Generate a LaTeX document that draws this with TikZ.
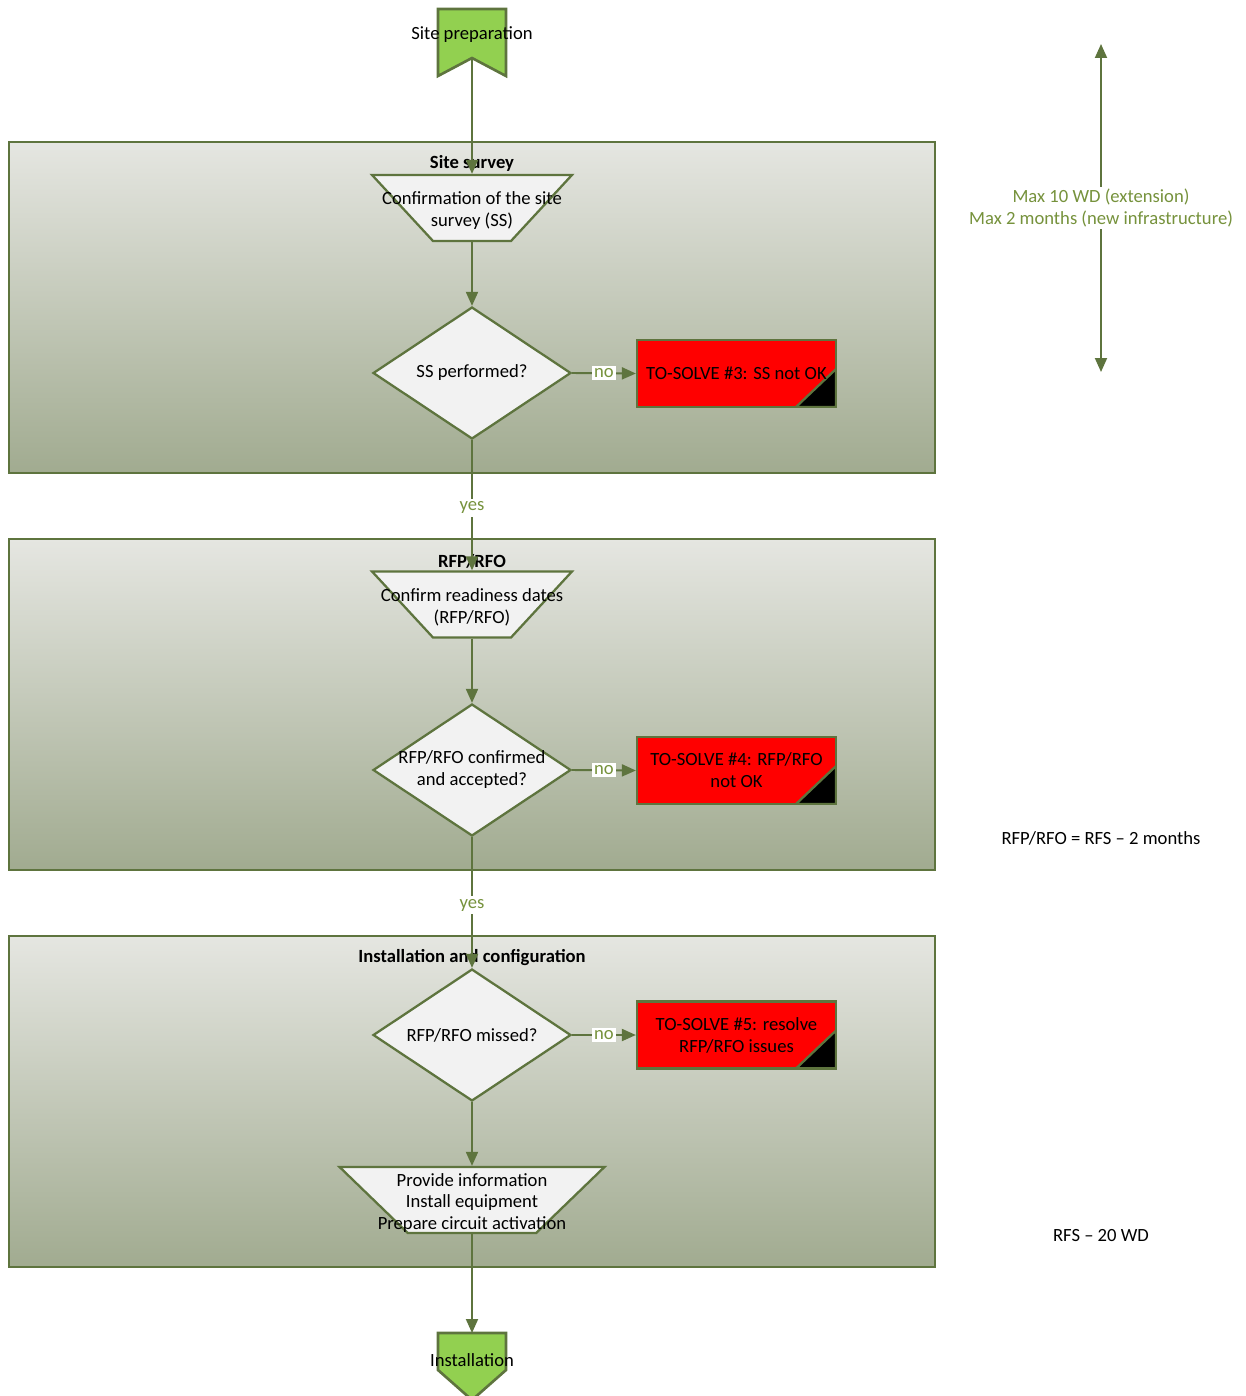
\documentclass[tikz,border=0pt]{standalone}
\usepackage{fontspec}
\setmainfont{Carlito}
\usetikzlibrary{shapes.geometric}
\usepgflibrary{arrows.meta}

\definecolor{lineg}{RGB}{94,116,62}
\definecolor{flagg}{RGB}{146,208,80}
\definecolor{textg}{RGB}{118,146,60}
\definecolor{paneltop}{RGB}{229,230,225}
\definecolor{panelbot}{RGB}{161,171,144}
\definecolor{shapef}{RGB}{242,242,242}

\tikzset{
    flow/.style={line width=1.1pt,draw=lineg,-{Triangle[length=2.8mm,width=2.4mm]}},
    panel/.style={draw=lineg,line width=1.6pt,top color=paneltop,bottom color=panelbot,
        minimum width=18.52cm,minimum height=6.62cm,inner sep=0pt},
    ptitle/.style={font=\fontsize{10.6pt}{12.5pt}\selectfont\bfseries},
    decide/.style={diamond,draw=lineg,line width=1.3pt,fill=shapef,
        minimum width=3.96cm,minimum height=2.64cm,inner sep=2pt},
    manual/.style={trapezium,draw=lineg,line width=1.3pt,fill=shapef,
        shape border rotate=180,trapezium stretches=true,inner sep=2pt},
    tosolve/.style={draw=lineg,line width=1.3pt,fill=red,
        minimum width=3.98cm,minimum height=1.34cm,align=center,
        path picture={\filldraw[draw=lineg,line width=1.3pt,fill=black]
            (path picture bounding box.south east) -- ++(0,0.76cm) -- ++(-0.8cm,-0.76cm) -- cycle;}},
    branch/.style={fill=white,text=textg,inner sep=1.5pt},
    flagshape/.style={draw=lineg,line width=1.5pt,fill=flagg}
}

\begin{document}
\begin{tikzpicture}[x=0.02cm,y=-0.02cm,font=\fontsize{10.6pt}{12.5pt}\selectfont]
        \useasboundingbox (0,0) rectangle (1246,1396);
        %泳道
        \node[panel] (survey) at (472,307.5) {};
        \node[panel] (rfp) at (472,704.5) {};
        \node[panel] (install) at (472,1101.5) {};
        \node[ptitle] (surveyt) at (472,163) {Site survey};
        \node[ptitle] (rfpt) at (472,561) {RFP/RFO};
        \node[ptitle] (installt) at (472,958) {Installation and configuration};

        %开始
        \draw [flagshape] (438,9) -- (506,9) -- (506,76) -- (472,58) -- (438,76) -- cycle;
        \node (prep) at (472,35) {Site preparation};
        \coordinate (prepnotch) at (472,58);

        %Site survey
        \node[manual,minimum width=4cm,minimum height=1.32cm,trapezium left angle=52,trapezium right angle=52,
            label={[align=center,yshift=-0.05cm]center:Confirmation of the site\\survey (SS)}] (confss) at (472,208) {};
        \node[decide,label=center:SS performed?] (ssdone) at (472,373) {};
        \node[tosolve] (solve3) at (736.5,373.5) {TO-SOLVE \#3: SS not OK};

        %RFP/RFO
        \node[manual,minimum width=4cm,minimum height=1.32cm,trapezium left angle=52,trapezium right angle=52,
            label={[align=center,yshift=-0.05cm]center:Confirm readiness dates\\(RFP/RFO)}] (confrfp) at (472,604.5) {};
        \node[decide,label={[align=center]center:RFP/RFO confirmed\\and accepted?}] (rfpok) at (472,770) {};
        \node[tosolve] (solve4) at (736.5,770.5) {TO-SOLVE \#4: RFP/RFO\\not OK};

        %Installation
        \node[decide,label=center:RFP/RFO missed?] (rfpmiss) at (472,1035) {};
        \node[tosolve] (solve5) at (736.5,1035) {TO-SOLVE \#5: resolve\\RFP/RFO issues};
        \node[manual,minimum width=5.3cm,minimum height=1.32cm,trapezium left angle=62,trapezium right angle=62,
            label={[align=center,yshift=-0.06cm]center:Provide information\\Install equipment\\Prepare circuit activation}] (work) at (472,1200) {};

        %结束
        \draw [flagshape] (438,1333) -- (506,1333) -- (506,1370) -- (472,1400) -- (438,1370) -- cycle;
        \node (inst) at (472,1360) {Installation};
        \coordinate (insttop) at (472,1333);

        %连线
        \draw [flow] (prepnotch) -- (confss.north);
        \draw [flow] (confss.south) -- (ssdone.north);
        \draw [flow] (ssdone.east) -- node[branch] {no} (solve3.west);
        \draw [flow] (ssdone.south) -- node[branch,pos=0.52] {yes} (confrfp.north);
        \draw [flow] (confrfp.south) -- (rfpok.north);
        \draw [flow] (rfpok.east) -- node[branch] {no} (solve4.west);
        \draw [flow] (rfpok.south) -- node[branch,pos=0.52] {yes} (rfpmiss.north);
        \draw [flow] (rfpmiss.east) -- node[branch] {no} (solve5.west);
        \draw [flow] (rfpmiss.south) -- (work.north);
        \draw [flow] (work.south) -- (insttop);

        %时间
        \coordinate (spantop) at (1101,44);
        \coordinate (spanbot) at (1101,372);
        \draw [flow,{Triangle[length=2.8mm,width=2.4mm]}-{Triangle[length=2.8mm,width=2.4mm]}] (spantop) -- node[fill=white,text=textg,align=center,inner sep=1pt] (spantext) {Max 10 WD (extension)\\Max 2 months (new infrastructure)} (spanbot);
        \node (rfprule) at (1101,838) {RFP/RFO = RFS -- 2 months};
        \node (rfsrule) at (1101,1236) {RFS -- 20 WD};
    \end{tikzpicture}
\end{document}
